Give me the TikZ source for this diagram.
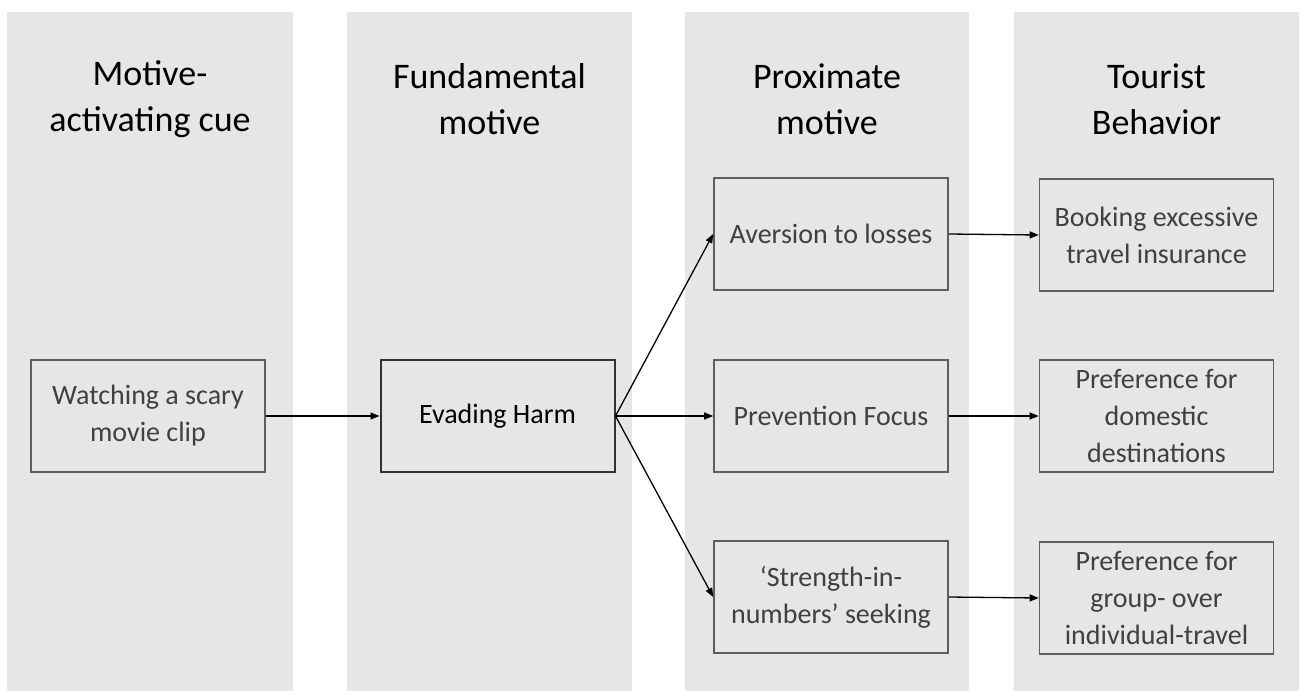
\documentclass[tikz,border=0pt]{standalone}
\usepackage{fontspec}
\setmainfont{Carlito}
\usetikzlibrary{arrows.meta}
\definecolor{colgray}{HTML}{E6E6E6}
\definecolor{boxline}{HTML}{5E5E5E}
\definecolor{boxtext}{HTML}{404040}
\tikzset{
  column/.style={fill=colgray, draw=none},
  head/.style={font=\fontsize{36}{46}\selectfont, align=center, text=black, inner sep=0pt},
  stepbox/.style={draw=boxline, line width=1.6pt, fill=colgray, minimum width=234pt,
    minimum height=112pt, inner sep=0pt, align=center, text=boxtext,
    font=\fontsize{28}{37}\selectfont},
  keybox/.style={stepbox, draw=black!80, line width=2pt, text=black},
  arr/.style={-{Triangle[length=9pt,width=7pt]}, line width=1.3pt, black}
}
\begin{document}
\begin{tikzpicture}[x=1pt, y=-1pt]
\useasboundingbox (0,0) rectangle (1304,691);
\fill[column] (7,12) rectangle (293,691);
\fill[column] (347,12) rectangle (632,691);
\fill[column] (685,12) rectangle (969,691);
\fill[column] (1014,12) rectangle (1299,691);

\node[head] (h1) at (150,99) {Motive-\\activating cue};
\node[head] (h2) at (489.5,99) {Fundamental\\motive};
\node[head] (h3) at (827,99) {Proximate\\motive};
\node[head] (h4) at (1156.5,99) {Tourist\\Behavior};

\node[stepbox] (w) at (148,416) {Watching a scary\\movie clip};
\node[keybox] (e) at (497.5,416) {Evading Harm};
\node[stepbox] (a) at (831,234) {Aversion to losses};
\node[stepbox] (p) at (831,416) {Prevention Focus};
\node[stepbox] (s) at (831,597) {‘Strength-in-\\numbers’ seeking};
\node[stepbox] (b) at (1156.5,235) {Booking excessive\\travel insurance};
\node[stepbox] (d) at (1156.5,416) {Preference for\\domestic\\destinations};
\node[stepbox] (g) at (1156.5,598) {Preference for\\group- over\\individual-travel};

\draw[arr] (w.east) -- (e.west);
\draw[arr] (e.east) -- (a.west);
\draw[arr] (e.east) -- (p.west);
\draw[arr] (e.east) -- (s.west);
\draw[arr] (a.east) -- (b.west);
\draw[arr] (p.east) -- (d.west);
\draw[arr] (s.east) -- (g.west);
\end{tikzpicture}
\end{document}
